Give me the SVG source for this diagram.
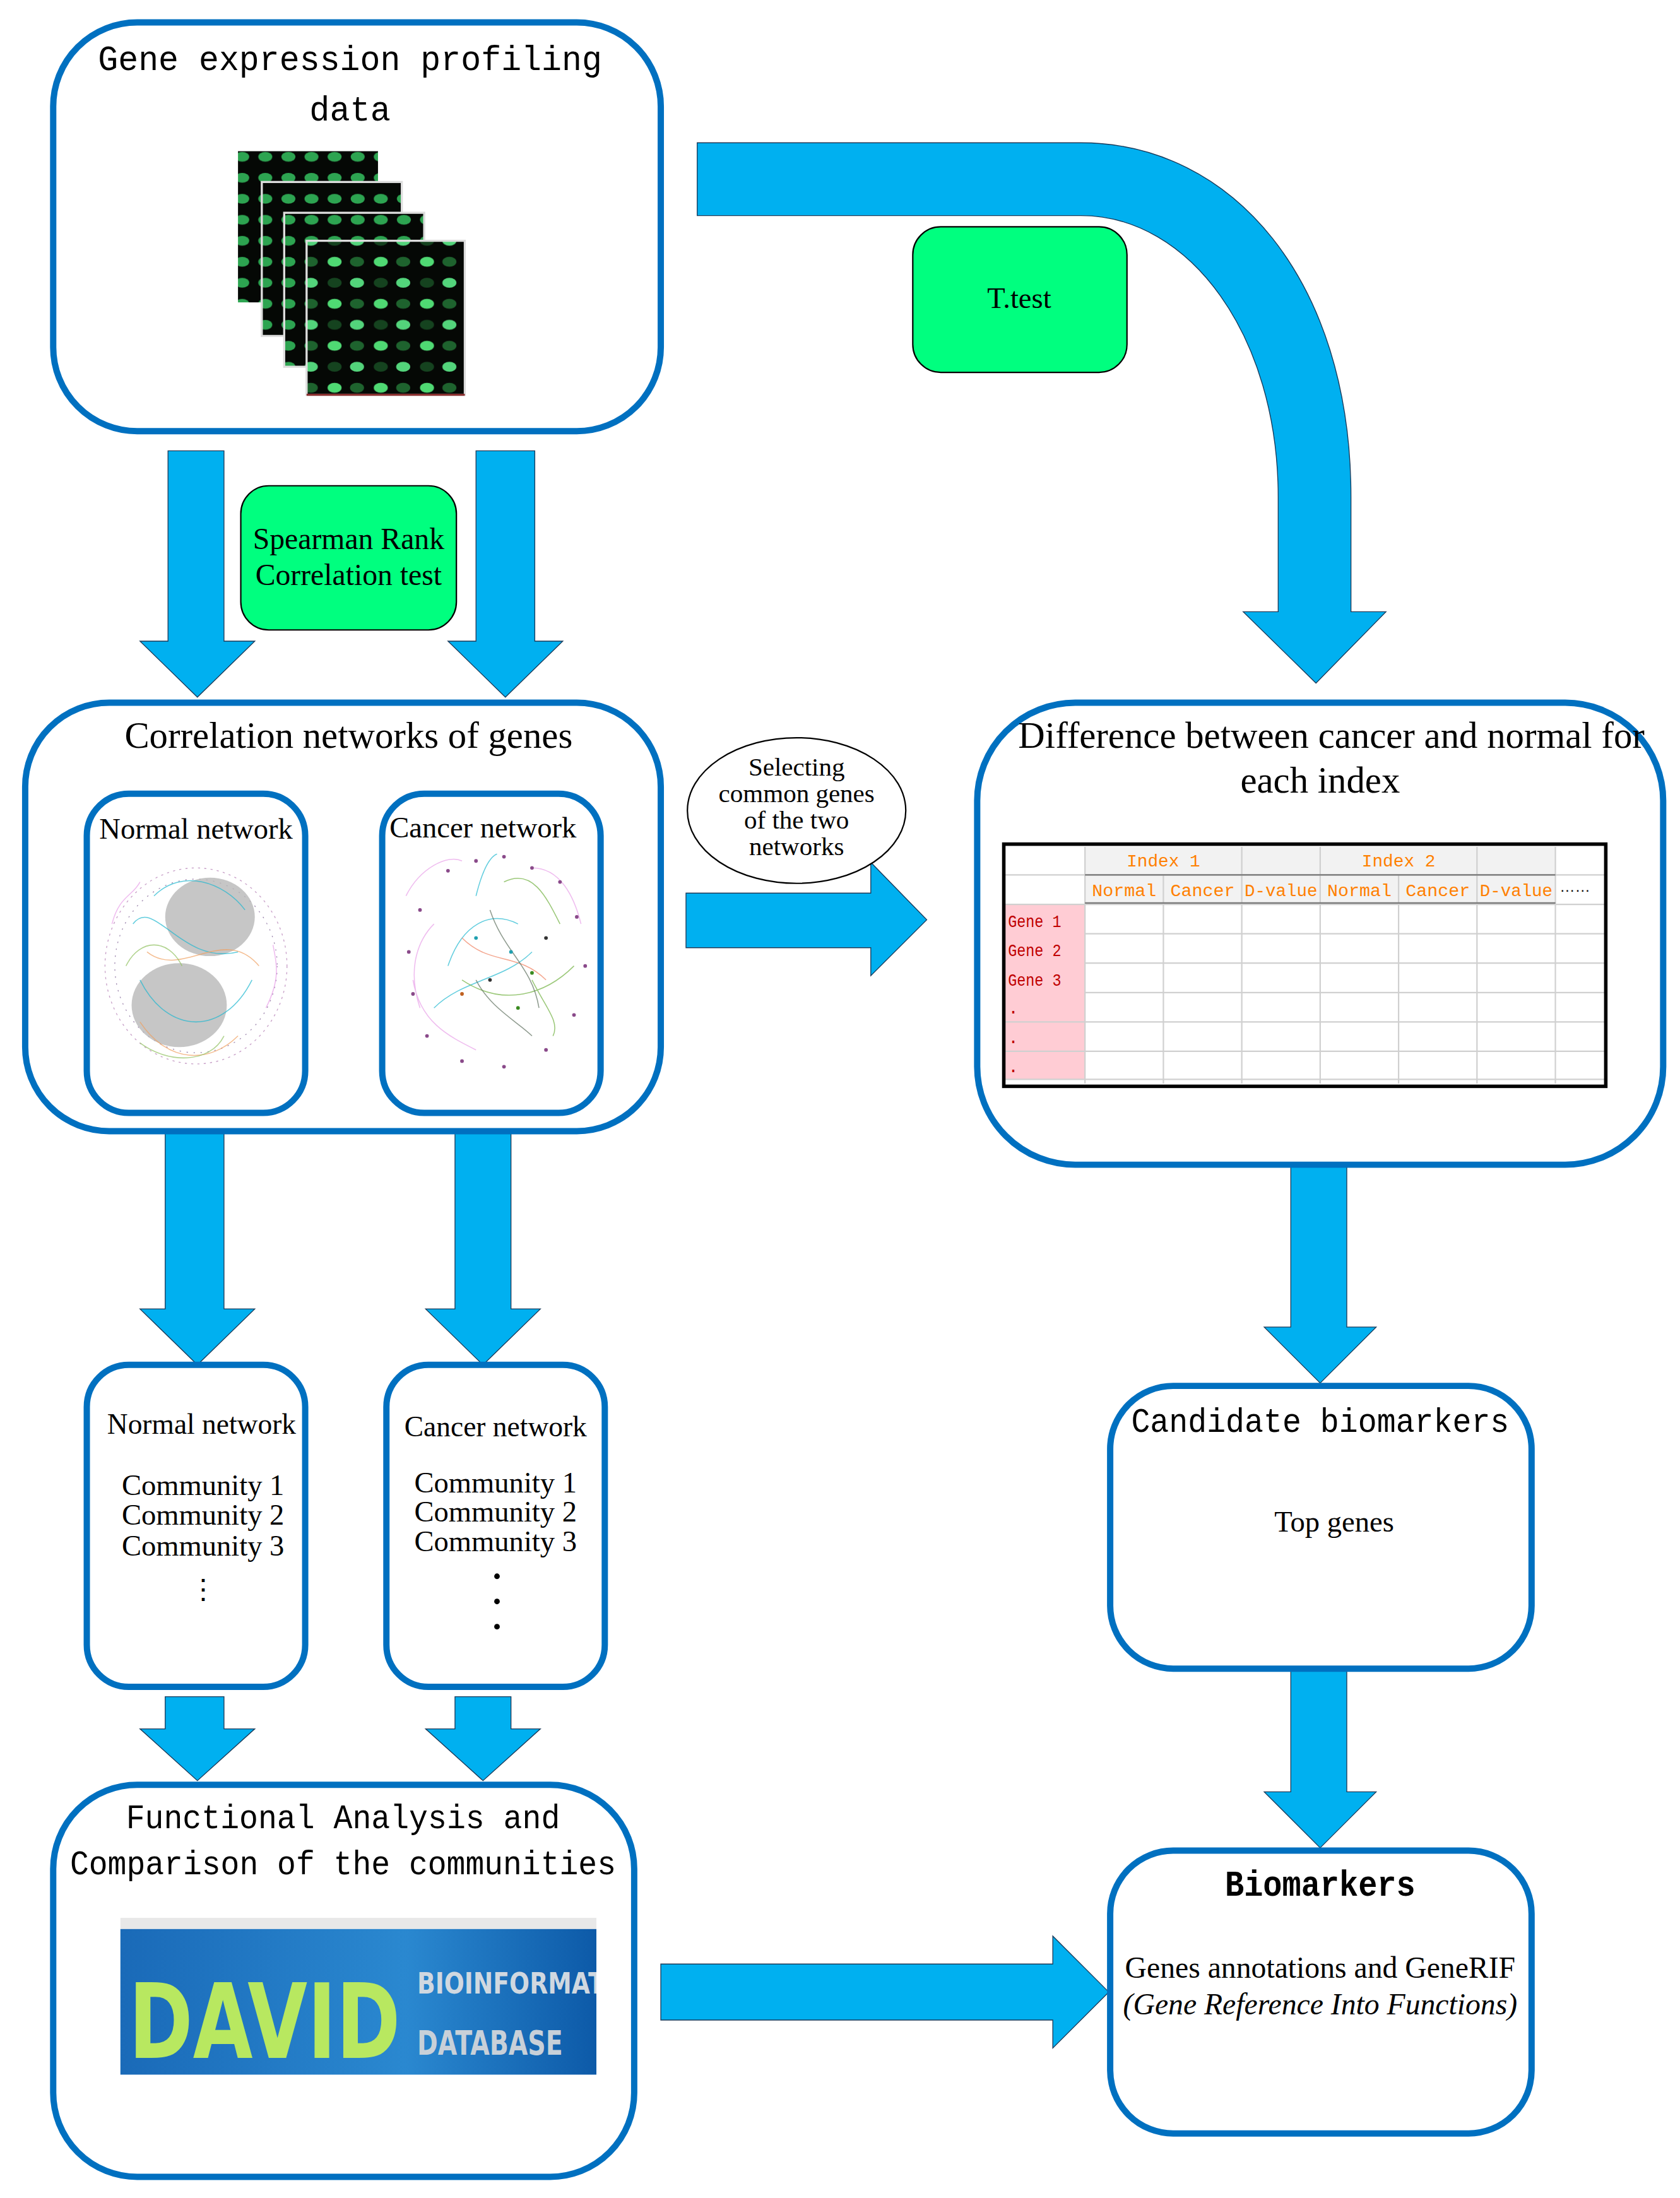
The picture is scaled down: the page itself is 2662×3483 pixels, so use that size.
<svg xmlns="http://www.w3.org/2000/svg" width="2662" height="3483" viewBox="0 0 2662 3483">
<style>
.box{fill:#fff;stroke:#0070c0;stroke-width:4.5}
.arr{fill:#00b0f0;stroke:#1a3a5a;stroke-width:0.6}
.green{fill:#00ff7f;stroke:#000;stroke-width:1}
.serif{font-family:"Liberation Serif",serif;fill:#000}
.mono{font-family:"Liberation Mono",monospace;fill:#000}
.th{font-family:"Liberation Mono",monospace;fill:#ff8000;font-size:12.5px;text-anchor:middle}
.gn{font-family:"Liberation Mono",monospace;fill:#c00000;font-size:12.5px}
.grid{stroke:#d0d0d0;stroke-width:1}
.nd{fill:#8a4a8a}
.ed{fill:none;stroke-width:0.7;opacity:0.7}
</style>
<defs>
<pattern id="spots" width="16.5" height="15" patternUnits="userSpaceOnUse">
<rect width="16.5" height="15" fill="#050805"/>
<ellipse cx="8" cy="7" rx="5" ry="3.5" fill="#3ad86a" opacity="0.75"/>
</pattern>
<pattern id="spots2" width="33" height="30" patternUnits="userSpaceOnUse">
<rect width="33" height="30" fill="#050805"/>
<ellipse cx="8" cy="7" rx="5" ry="3.5" fill="#58f080" opacity="0.9"/>
<ellipse cx="24" cy="7" rx="5" ry="3.5" fill="#2a8a40" opacity="0.7"/>
<ellipse cx="8" cy="22" rx="5" ry="3.5" fill="#1f6a30" opacity="0.6"/>
<ellipse cx="24" cy="22" rx="5" ry="3.5" fill="#60f890" opacity="0.85"/>
</pattern>
<linearGradient id="dg" x1="0" y1="0" x2="1" y2="0">
<stop offset="0" stop-color="#1a6ab8"/><stop offset="0.6" stop-color="#2a88d0"/><stop offset="1" stop-color="#0d5aa8"/>
</linearGradient>
<clipPath id="dclip"><rect x="86" y="1378" width="340" height="104"/></clipPath>
</defs>
<g transform="scale(2.2183)">
<g id="connectors">
<path class="arr" d="M498,102 H772 C880,102 965,200 965,355 V437 H990 L940,488 L888,437 H913 V355 C913,240 850,154 772,154 H498 Z"/>
<path class="arr" d="M120,322 H160 V458 H182 L141,498 L100,458 H120 Z"/>
<path class="arr" d="M340,322 H382 V458 H402 L361,498 L320,458 H340 Z"/>
<path class="arr" d="M490,638 H622 V616 L662,657 L622,697 V677 H490 Z"/>
<path class="arr" d="M118,797 H160 V935 H182 L141,975 L100,935 H118 Z"/>
<path class="arr" d="M325,797 H365 V935 H386 L345,975 L304,935 H325 Z"/>
<path class="arr" d="M922,832 H962 V948 H983 L943,988 L903,948 H922 Z"/>
<path class="arr" d="M118,1212 H160 V1235 H182 L141,1272 L100,1235 H118 Z"/>
<path class="arr" d="M325,1212 H365 V1235 H386 L345,1272 L304,1235 H325 Z"/>
<path class="arr" d="M922,1192 H962 V1280 H983 L943,1320 L903,1280 H922 Z"/>
<path class="arr" d="M472,1403 H752 V1383 L792,1423 L752,1463 V1443 H472 Z"/>
</g>
<g id="box1">
<rect class="box" x="38" y="16" width="434" height="292" rx="60"/>
<text class="mono" x="250" y="50" font-size="25" text-anchor="middle" textLength="360" lengthAdjust="spacingAndGlyphs">Gene expression profiling</text>
<text class="mono" x="250" y="86" font-size="25" text-anchor="middle" textLength="58" lengthAdjust="spacingAndGlyphs">data</text>
<rect x="170" y="108" width="100" height="108" fill="url(#spots)"/>
<rect x="187" y="130" width="100" height="110" fill="url(#spots)" stroke="#ddd" stroke-width="1.5"/>
<rect x="203" y="152" width="100" height="110" fill="url(#spots)" stroke="#ddd" stroke-width="1.5"/>
<rect x="219" y="172" width="113" height="110" fill="url(#spots2)" stroke="#ddd" stroke-width="1.5"/>
<line x1="219" y1="282" x2="332" y2="282" stroke="#8a3030" stroke-width="1.5"/>
</g>
<g id="ttest">
<rect class="green" x="652" y="162" width="153" height="104" rx="20"/>
<text class="serif" x="728" y="220" font-size="21" text-anchor="middle">T.test</text>
</g>
<g id="spearman">
<rect class="green" x="172" y="347" width="154" height="103" rx="20"/>
<text class="serif" x="249" y="392" font-size="21.5" text-anchor="middle">Spearman Rank</text>
<text class="serif" x="249" y="418" font-size="21.5" text-anchor="middle">Correlation test</text>
</g>
<g id="box2">
<rect class="box" x="18" y="502" width="454" height="306" rx="60"/>
<text class="serif" x="249" y="534" font-size="26.5" text-anchor="middle">Correlation networks of genes</text>
</g>
<g id="normalnet">
<rect class="box" x="62" y="567" width="156" height="228" rx="30"/>
<text class="serif" x="140" y="599" font-size="21" text-anchor="middle">Normal network</text>
<ellipse cx="140" cy="690" rx="65" ry="70" fill="none" stroke="#c8a0c8" stroke-width="0.6" stroke-dasharray="1.5 3"/>
<ellipse cx="140" cy="690" rx="58" ry="62" fill="none" stroke="#a08ab0" stroke-width="0.6" stroke-dasharray="1 4"/>
<ellipse cx="150" cy="655" rx="32" ry="28" fill="#b8b8b8" opacity="0.8"/>
<ellipse cx="128" cy="718" rx="34" ry="30" fill="#b8b8b8" opacity="0.8"/>
<path class="ed" stroke="#20b8d0" d="M95,660 C110,640 130,690 170,680 M100,700 C120,740 160,740 180,700 M110,640 C130,620 160,630 175,650"/>
<path class="ed" stroke="#f0a060" d="M105,680 C130,700 160,660 185,690 M100,730 C120,760 150,760 170,740"/>
<path class="ed" stroke="#90c060" d="M100,745 C120,760 150,760 160,740 M90,690 C100,670 120,670 130,690"/>
<path class="ed" stroke="#e8a0e8" d="M80,660 C85,640 95,640 100,630 M190,720 C200,700 198,690 195,675"/>
</g>
<g id="cancernet">
<rect class="box" x="273" y="567" width="156" height="228" rx="30"/>
<text class="serif" x="345" y="598" font-size="21" text-anchor="middle">Cancer network</text>
<path class="ed" stroke="#e8a0e8" d="M290,640 C300,620 320,610 330,615 M295,700 C300,730 320,740 340,750 M380,620 C400,620 410,640 415,660 M300,720 C290,690 300,670 310,660"/>
<path class="ed" stroke="#20b8d0" d="M320,690 C330,660 350,650 370,660 M310,720 C330,700 360,700 380,680 M340,640 C345,620 350,612 355,610"/>
<path class="ed" stroke="#70b040" d="M360,630 C380,620 390,640 400,660 M330,700 C360,720 390,710 410,690 M380,700 C390,720 400,730 395,740"/>
<path class="ed" stroke="#f08060" d="M330,670 C350,690 370,680 390,700"/>
<path class="ed" stroke="#607060" d="M350,650 C360,680 380,690 385,720 M340,700 C350,720 370,730 380,740"/>
<g class="nd">
<circle cx="320" cy="622" r="1.3"/><circle cx="340" cy="615" r="1.3"/><circle cx="360" cy="612" r="1.3"/><circle cx="380" cy="620" r="1.3"/><circle cx="300" cy="650" r="1.3"/><circle cx="292" cy="680" r="1.3"/><circle cx="295" cy="710" r="1.3"/><circle cx="305" cy="740" r="1.3"/><circle cx="330" cy="758" r="1.3"/><circle cx="360" cy="762" r="1.3"/><circle cx="390" cy="750" r="1.3"/><circle cx="410" cy="725" r="1.3"/><circle cx="418" cy="690" r="1.3"/><circle cx="412" cy="655" r="1.3"/><circle cx="400" cy="630" r="1.3"/>
<circle cx="340" cy="670" r="1.3" fill="#20a0b0"/><circle cx="365" cy="680" r="1.3" fill="#20a0b0"/><circle cx="350" cy="700" r="1.3" fill="#333"/><circle cx="380" cy="695" r="1.3" fill="#3a8a20"/><circle cx="330" cy="710" r="1.3" fill="#c06020"/><circle cx="390" cy="670" r="1.3" fill="#333"/><circle cx="370" cy="720" r="1.3" fill="#3a8a20"/>
</g>
</g>
<g id="selecting">
<ellipse cx="569" cy="579" rx="78" ry="52" fill="#fff" stroke="#000" stroke-width="1"/>
<text class="serif" x="569" y="554" font-size="18.5" text-anchor="middle">Selecting</text>
<text class="serif" x="569" y="573" font-size="18.5" text-anchor="middle">common genes</text>
<text class="serif" x="569" y="592" font-size="18.5" text-anchor="middle">of the two</text>
<text class="serif" x="569" y="611" font-size="18.5" text-anchor="middle">networks</text>
</g>
<g id="boxdiff">
<rect class="box" x="698" y="502" width="490" height="330" rx="70"/>
<text class="serif" x="951" y="534" font-size="26.5" text-anchor="middle">Difference between cancer and normal for</text>
<text class="serif" x="943" y="566" font-size="26.5" text-anchor="middle">each index</text>
<rect x="717" y="603" width="430" height="173" fill="#fff"/>
<rect x="718" y="646" width="57" height="125" fill="#ffccd4"/>
<rect x="775" y="605" width="336" height="40" fill="#f2f2f2"/>
<g class="grid">
<line x1="775" y1="605" x2="775" y2="774"/><line x1="831" y1="625" x2="831" y2="774"/><line x1="887" y1="605" x2="887" y2="774"/><line x1="943" y1="605" x2="943" y2="774"/><line x1="999" y1="625" x2="999" y2="774"/><line x1="1055" y1="605" x2="1055" y2="774"/><line x1="1111" y1="605" x2="1111" y2="774"/>
<line x1="717" y1="625" x2="1147" y2="625"/><line x1="717" y1="646" x2="1147" y2="646"/><line x1="775" y1="667" x2="1147" y2="667"/><line x1="775" y1="688" x2="1147" y2="688"/><line x1="775" y1="709" x2="1147" y2="709"/><line x1="717" y1="730" x2="1147" y2="730"/><line x1="717" y1="751" x2="1147" y2="751"/><line x1="717" y1="771" x2="1147" y2="771"/>
</g>
<line x1="775" y1="625" x2="1111" y2="625" stroke="#777" stroke-width="1"/>
<line x1="775" y1="645" x2="1111" y2="645" stroke="#777" stroke-width="1"/>
<rect x="717" y="603" width="430" height="173" fill="none" stroke="#000" stroke-width="2.5"/>
<text class="th" x="831" y="619" font-size="14">Index 1</text><text class="th" x="999" y="619" font-size="14">Index 2</text>
<text class="th" x="803" y="640" textLength="46" lengthAdjust="spacingAndGlyphs" font-size="14">Normal</text><text class="th" x="859" y="640" textLength="46" lengthAdjust="spacingAndGlyphs" font-size="14">Cancer</text><text class="th" x="915" y="640" textLength="52" lengthAdjust="spacingAndGlyphs" font-size="14">D-value</text>
<text class="th" x="971" y="640" textLength="46" lengthAdjust="spacingAndGlyphs" font-size="14">Normal</text><text class="th" x="1027" y="640" textLength="46" lengthAdjust="spacingAndGlyphs" font-size="14">Cancer</text><text class="th" x="1083" y="640" textLength="52" lengthAdjust="spacingAndGlyphs" font-size="14">D-value</text>
<text x="1125" y="637" font-family="Liberation Sans,sans-serif" font-size="11" text-anchor="middle">……</text>
<text class="gn" x="720" y="662" font-size="14" textLength="38" lengthAdjust="spacingAndGlyphs">Gene 1</text><text class="gn" x="720" y="683" font-size="14" textLength="38" lengthAdjust="spacingAndGlyphs">Gene 2</text><text class="gn" x="720" y="704" font-size="14" textLength="38" lengthAdjust="spacingAndGlyphs">Gene 3</text>
<text class="gn" x="720" y="724">.</text><text class="gn" x="720" y="745">.</text><text class="gn" x="720" y="766">.</text>
</g>
<g id="normalcomm">
<rect class="box" x="62" y="975" width="156" height="230" rx="30"/>
<text class="serif" x="144" y="1024" font-size="20.5" text-anchor="middle">Normal network</text>
<text class="serif" x="145" y="1068" font-size="21" text-anchor="middle">Community 1</text>
<text class="serif" x="145" y="1089" font-size="21" text-anchor="middle">Community 2</text>
<text class="serif" x="145" y="1111" font-size="21" text-anchor="middle">Community 3</text>
<text class="serif" x="145" y="1142" font-size="20" text-anchor="middle">⋮</text>
</g>
<g id="cancercomm">
<rect class="box" x="276" y="975" width="156" height="230" rx="30"/>
<text class="serif" x="354" y="1026" font-size="20.5" text-anchor="middle">Cancer network</text>
<text class="serif" x="354" y="1066" font-size="21" text-anchor="middle">Community 1</text>
<text class="serif" x="354" y="1087" font-size="21" text-anchor="middle">Community 2</text>
<text class="serif" x="354" y="1108" font-size="21" text-anchor="middle">Community 3</text>
<circle cx="355" cy="1126" r="2"/><circle cx="355" cy="1144" r="2"/><circle cx="355" cy="1162" r="2"/>
</g>
<g id="functional">
<rect class="box" x="38" y="1275" width="415" height="280" rx="60"/>
<text class="mono" x="245" y="1306" font-size="24" text-anchor="middle" textLength="310" lengthAdjust="spacingAndGlyphs">Functional Analysis and</text>
<text class="mono" x="245" y="1339" font-size="24" text-anchor="middle" textLength="390" lengthAdjust="spacingAndGlyphs">Comparison of the communities</text>
<rect x="86" y="1370" width="340" height="8" fill="#e8e8e8"/>
<rect x="86" y="1378" width="340" height="104" fill="url(#dg)"/>
<g clip-path="url(#dclip)">
<text x="92" y="1470" font-family="DejaVu Sans,sans-serif" font-weight="bold" font-size="74" fill="#b8e860" textLength="194" lengthAdjust="spacingAndGlyphs">DAVID</text>
<text x="298" y="1424" font-family="DejaVu Sans,sans-serif" font-weight="bold" font-size="21" fill="#d0d8e0" textLength="140" lengthAdjust="spacingAndGlyphs">BIOINFORMATI</text>
<text x="298" y="1468" font-family="DejaVu Sans,sans-serif" font-weight="bold" font-size="24" fill="#c8d0d8" textLength="104" lengthAdjust="spacingAndGlyphs">DATABASE</text>
</g>
</g>
<g id="candidate">
<rect class="box" x="793" y="990" width="301" height="202" rx="45"/>
<text class="mono" x="943" y="1023" font-size="24" text-anchor="middle" textLength="270" lengthAdjust="spacingAndGlyphs">Candidate biomarkers</text>
<text class="serif" x="953" y="1094" font-size="21" text-anchor="middle">Top genes</text>
</g>
<g id="biomarkers">
<rect class="box" x="793" y="1322" width="301" height="202" rx="45"/>
<text class="mono" x="943" y="1354" font-size="26" font-weight="bold" text-anchor="middle" textLength="136" lengthAdjust="spacingAndGlyphs">Biomarkers</text>
<text class="serif" x="943" y="1413" font-size="21.5" text-anchor="middle">Genes annotations and GeneRIF</text>
<text class="serif" x="943" y="1439" font-size="21.5" font-style="italic" text-anchor="middle">(Gene Reference Into Functions)</text>
</g>
</g>
</svg>
